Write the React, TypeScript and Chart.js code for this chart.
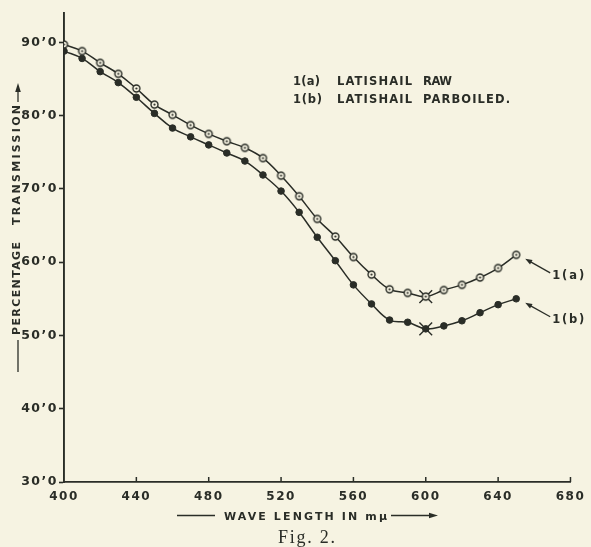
import React, { useEffect, useRef } from "react";
import { Chart, registerables } from "chart.js";

Chart.register(...registerables);

// ---- data ----
const wavelengths = [400, 410, 420, 430, 440, 450, 460, 470, 480, 490, 500, 510, 520, 530, 540, 550, 560, 570, 580, 590, 600, 610, 620, 630, 640, 650];
const rawValues = [89.7, 88.8, 87.2, 85.7, 83.7, 81.5, 80.1, 78.7, 77.5, 76.5, 75.6, 74.2, 71.8, 69.0, 65.9, 63.5, 60.7, 58.3, 56.3, 55.8, 55.3, 56.2, 56.9, 57.9, 59.2, 61.0];
const parboiledValues = [88.8, 87.8, 86.0, 84.5, 82.5, 80.3, 78.3, 77.1, 76.0, 74.9, 73.8, 71.9, 69.7, 66.8, 63.4, 60.2, 56.9, 54.3, 52.1, 51.8, 50.9, 51.3, 52.0, 53.1, 54.2, 55.0];
const minimumWavelength = 600;
const xTickValues = [400, 440, 480, 520, 560, 600, 640, 680];
const yTickValues = [30, 40, 50, 60, 70, 80, 90];
const seriesTags = ["1(a)", "1(b)"];
const legendWords = [
  ["1(a)", "LATISHAIL", "RAW"],
  ["1(b)", "LATISHAIL", "PARBOILED."],
];
const xTitle = "WAVE LENGTH IN m\u03bc";
const yTitleWords = ["PERCENTAGE", "TRANSMISSION"];
const caption = "Fig. 2.";

const INK = "#2a2d27";
const PAPER = "#f6f3e2";
const SANS = '"DejaVu Sans", sans-serif';

function fitText(
  ctx: CanvasRenderingContext2D,
  text: string,
  x: number,
  y: number,
  width: number,
  font: string,
  baseline: CanvasTextBaseline = "middle"
) {
  ctx.save();
  ctx.font = font;
  (ctx as any).letterSpacing = "0px";
  const w = ctx.measureText(text).width;
  const n = Array.from(text).length;
  const sp = n > 1 ? (width - w) / (n - 1) : 0;
  (ctx as any).letterSpacing = sp + "px";
  ctx.textAlign = "left";
  ctx.textBaseline = baseline;
  ctx.fillStyle = INK;
  ctx.fillText(text, x, y);
  ctx.restore();
}

function arrow(ctx: CanvasRenderingContext2D, x1: number, y1: number, x2: number, y2: number, head = 7, half = 2.6) {
  const a = Math.atan2(y2 - y1, x2 - x1);
  ctx.save();
  ctx.strokeStyle = INK;
  ctx.fillStyle = INK;
  ctx.lineWidth = 1.3;
  ctx.beginPath();
  ctx.moveTo(x1, y1);
  ctx.lineTo(x2 - Math.cos(a) * head * 0.6, y2 - Math.sin(a) * head * 0.6);
  ctx.stroke();
  ctx.beginPath();
  ctx.moveTo(x2, y2);
  ctx.lineTo(x2 - Math.cos(a) * head - Math.sin(a) * half, y2 - Math.sin(a) * head + Math.cos(a) * half);
  ctx.lineTo(x2 - Math.cos(a) * head + Math.sin(a) * half, y2 - Math.sin(a) * head - Math.cos(a) * half);
  ctx.closePath();
  ctx.fill();
  ctx.restore();
}

function line(ctx: CanvasRenderingContext2D, x1: number, y1: number, x2: number, y2: number, w = 1.3) {
  ctx.save();
  ctx.strokeStyle = INK;
  ctx.lineWidth = w;
  ctx.beginPath();
  ctx.moveTo(x1, y1);
  ctx.lineTo(x2, y2);
  ctx.stroke();
  ctx.restore();
}

const decorPlugin = {
  id: "decor",
  beforeDraw(chart: any) {
    chart.ctx.letterSpacing = "1.5px";
  },
  afterDraw(chart: any) {
    const ctx: CanvasRenderingContext2D = chart.ctx;
    (ctx as any).letterSpacing = "0px";
    const xs = chart.scales.x;
    const ys = chart.scales.y;
    const area = chart.chartArea;

    // inner tick marks on the x axis
    xTickValues.forEach((v, i) => {
      if (i === 0) return;
      const px = xs.getPixelForValue(v);
      line(ctx, px, area.bottom, px, area.bottom - 5, 1.5);
    });

    const F = `bold 11px ${SANS}`;
    const FL = `bold 11.5px ${SANS}`;

    // legend text block
    const wordX = [293, 337, 423];
    const wordW = [[27, 75, 29], [29, 75, 87]];
    legendWords.forEach((words, r) => {
      words.forEach((w, k) => {
        fitText(ctx, w, wordX[k], 82 + r * 18, wordW[r][k], FL);
      });
    });

    // series tags with arrows
    const last = wavelengths.length - 1;
    [rawValues, parboiledValues].forEach((vals, i) => {
      const px = xs.getPixelForValue(wavelengths[last]);
      const py = ys.getPixelForValue(vals[last]);
      arrow(ctx, px + 34, py + 18, px + 9, py + 4);
      fitText(ctx, seriesTags[i], px + 36, py + 21, 32, FL);
    });

    // x-axis title
    line(ctx, 177, 515.5, 215, 515.5, 1.3);
    fitText(ctx, xTitle, 224, 517, 163, F);
    arrow(ctx, 391, 515.5, 438, 515.5, 9, 2.8);

    // y-axis title (rotated)
    ctx.save();
    ctx.translate(18, 372);
    ctx.rotate(-Math.PI / 2);
    line(ctx, 0, 0, 32, 0, 1.3);
    fitText(ctx, yTitleWords[0], 37, -1, 93, F);
    fitText(ctx, yTitleWords[1], 147, -1, 120, F);
    arrow(ctx, 270, 0, 289, 0, 9, 2.8);
    ctx.restore();

    // caption
    fitText(ctx, caption, 278, 543, 57, `18px "Liberation Serif", serif`, "alphabetic");
  },
};

export default function App() {
  const ref = useRef<HTMLCanvasElement>(null);

  useEffect(() => {
    const canvas = ref.current;
    if (!canvas) return;

    const openMarker = document.createElement("canvas");
    openMarker.width = 11;
    openMarker.height = 11;
    const g = openMarker.getContext("2d")!;
    g.fillStyle = PAPER;
    g.strokeStyle = INK;
    g.lineWidth = 1.4;
    g.beginPath();
    g.arc(5.5, 5.5, 3.5, 0, Math.PI * 2);
    g.fill();
    g.stroke();
    g.fillStyle = INK;
    g.beginPath();
    g.arc(5.5, 5.5, 1.1, 0, Math.PI * 2);
    g.fill();

    const minIdx = wavelengths.indexOf(minimumWavelength);

    const chart = new Chart(canvas, {
      type: "line",
      data: {
        datasets: [
          {
            label: "1(a) LATISHAIL RAW",
            data: wavelengths.map((x, i) => ({ x, y: rawValues[i] })),
            borderColor: INK,
            borderWidth: 1.5,
            tension: 0.4,
            pointStyle: openMarker as any,
            pointRadius: 3.5,
            fill: false,
          },
          {
            label: "1(b) LATISHAIL PARBOILED.",
            data: wavelengths.map((x, i) => ({ x, y: parboiledValues[i] })),
            borderColor: INK,
            borderWidth: 1.5,
            tension: 0.4,
            pointStyle: "circle",
            pointRadius: 3.3,
            pointBackgroundColor: INK,
            pointBorderColor: INK,
            pointBorderWidth: 1,
            fill: false,
          },
          {
            label: "minimum",
            data: [
              { x: minimumWavelength, y: rawValues[minIdx] },
              { x: minimumWavelength, y: parboiledValues[minIdx] },
            ],
            showLine: false,
            pointStyle: "crossRot",
            pointRadius: 9,
            pointBorderColor: INK,
            pointBorderWidth: 1.4,
          },
        ],
      },
      options: {
        responsive: false,
        animation: false,
        events: [],
        layout: { padding: { left: 0, right: 18, top: 13, bottom: 0 } },
        plugins: { legend: { display: false }, tooltip: { enabled: false } },
        scales: {
          x: {
            type: "linear",
            min: 400,
            max: 680,
            afterBuildTicks: (s: any) => {
              s.ticks = xTickValues.map((v) => ({ value: v }));
            },
            afterFit: (s: any) => {
              s.height = 65;
            },
            grid: { display: false, drawTicks: false },
            border: { display: true, color: INK, width: 1.7 },
            ticks: {
              color: INK,
              padding: 8,
              maxRotation: 0,
              autoSkip: false,
              font: { family: SANS, size: 12, weight: "bold" },
              callback: (v: any) => String(v),
            },
          },
          y: {
            type: "linear",
            min: 30,
            max: 94,
            afterBuildTicks: (s: any) => {
              s.ticks = yTickValues.map((v) => ({ value: v }));
            },
            afterFit: (s: any) => {
              s.width = 64;
            },
            grid: {
              drawOnChartArea: false,
              drawTicks: true,
              tickLength: 5,
              tickColor: INK,
              tickWidth: 1.6,
              color: INK,
            },
            border: { display: true, color: INK, width: 1.9 },
            ticks: {
              color: INK,
              padding: 1,
              autoSkip: false,
              font: { family: SANS, size: 12.5, weight: "bold" },
              callback: (v: any) => `${v}\u20190`,
            },
          },
        },
      },
      plugins: [decorPlugin],
    });

    return () => chart.destroy();
  }, []);

  return (
    <div style={{ position: "fixed", left: 0, top: 0, width: 591, height: 547, background: PAPER }}>
      <canvas ref={ref} width={591} height={547} style={{ display: "block", width: 591, height: 547 }} />
    </div>
  );
}
